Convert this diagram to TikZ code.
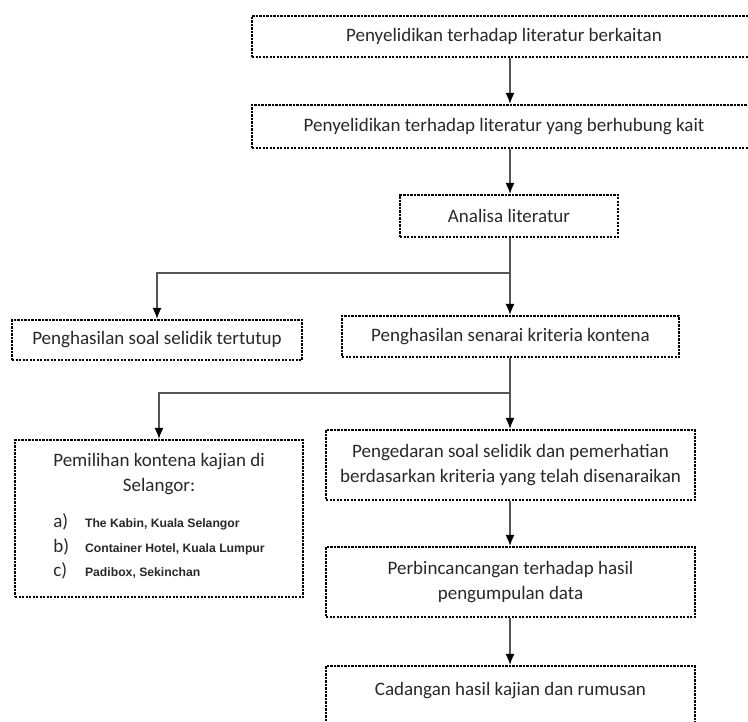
\documentclass[tikz,border=0pt]{standalone}
\usepackage{fontspec}
\setmainfont{Carlito}
\newfontfamily\listfont{Liberation Sans}
\usetikzlibrary{arrows.meta, calc}
\definecolor{cTxt}{RGB}{40,40,40}
\definecolor{cLine}{RGB}{85,85,85}
\tikzset{
  dotbox/.style={draw=black, line width=2.2pt, dash pattern=on 2.2pt off 1.3pt,
    text=cTxt, align=center, inner sep=4pt},
  wire/.style={cLine, line width=1.4pt},
  flow/.style={wire, -{Latex[length=11pt, width=9pt, color=black]}}
}
\newcommand{\siteitem}[1]{{\listfont\bfseries\fontsize{12.2}{14}\selectfont #1}}

\begin{document}
\begin{tikzpicture}[x=1pt, y=-1pt, font=\fontsize{19}{25}\selectfont]

    \path[use as bounding box, clip] (0,0) rectangle (748,722);

    % --- Literature stage ---
    \node[dotbox, minimum width=504pt, minimum height=41pt] (litA) at (504,36.5)
        {Penyelidikan terhadap literatur berkaitan};
    \node[dotbox, minimum width=504pt, minimum height=43pt] (litB) at (504,126.5)
        {Penyelidikan terhadap literatur yang berhubung kait};
    \node[dotbox, minimum width=218pt, minimum height=42pt] (anal) at (509,216)
        {Analisa literatur};

    \coordinate (jA) at (510,273);
    \draw[flow] (litA.south -| jA) -- (litB.north -| jA);
    \draw[flow] (litB.south -| jA) -- (anal.north -| jA);

    % --- First split ---
    \node[dotbox, minimum width=290pt, minimum height=40pt] (soal) at (157,340)
        {Penghasilan soal selidik tertutup};
    \node[dotbox, minimum width=337pt, minimum height=41pt] (krit) at (510.5,336.5)
        {Penghasilan senarai kriteria kontena};

    \draw[wire] (anal.south -| jA) -- (jA);
    \draw[flow] (jA) -| (soal);
    \draw[flow] (jA) -- (krit.north -| jA);

    % --- Second split ---
    \node[dotbox, minimum width=288pt, minimum height=157pt] (pilih) at (159,518.5)
        {Pemilihan kontena kajian di\\ Selangor:\\[15pt]
         \renewcommand{\arraystretch}{0.98}%
         \begin{tabular}{@{}l@{\hspace{16pt}}l@{}}
            a) & \siteitem{The Kabin, Kuala Selangor}\\
            b) & \siteitem{Container Hotel, Kuala Lumpur}\\
            c) & \siteitem{Padibox, Sekinchan}
         \end{tabular}};
    \node[dotbox, minimum width=369pt, minimum height=70pt] (edar) at (510.5,465)
        {Pengedaran soal selidik dan pemerhatian\\ berdasarkan kriteria yang telah disenaraikan};

    \coordinate (jB) at (510,393);
    \draw[wire] (krit.south -| jB) -- (jB);
    \draw[flow] (jB) -| (pilih);
    \draw[flow] (jB) -- (edar.north -| jB);

    % --- Final stage ---
    \node[dotbox, minimum width=369pt, minimum height=70pt] (bincang) at (510.5,582)
        {Perbincancangan terhadap hasil\\ pengumpulan data};
    \node[dotbox, minimum width=369pt, minimum height=70pt] (cadang) at (510.5,701)
        {Cadangan hasil kajian dan rumusan\\ \mbox{}};

    \draw[flow] (edar.south -| jB) -- (bincang.north -| jB);
    \draw[flow] (bincang.south -| jB) -- (cadang.north -| jB);

\end{tikzpicture}
\end{document}
